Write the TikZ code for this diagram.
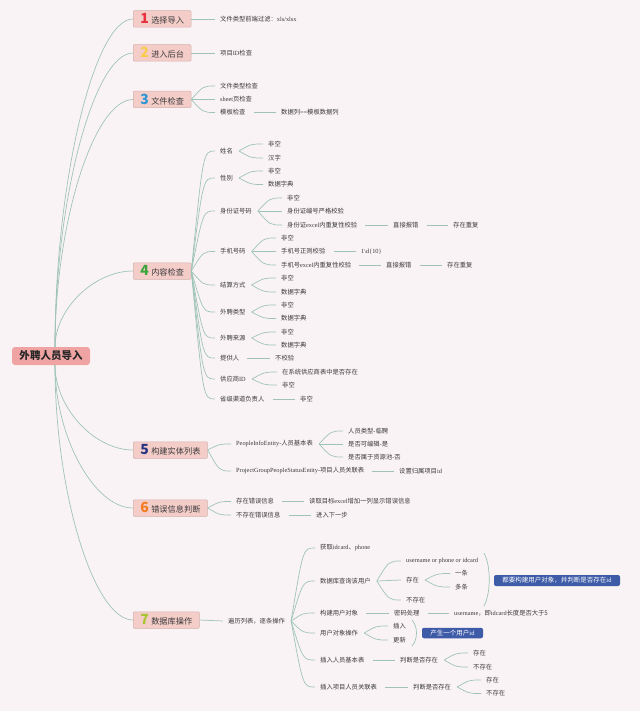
\documentclass[tikz,border=0pt]{standalone}
\usepackage{fontspec}
\setmainfont{Noto Sans CJK SC}
\newfontfamily\lat{Liberation Serif}
\usetikzlibrary{calc}
\definecolor{bg}{HTML}{FAF3F5}
\definecolor{txt}{HTML}{3A3A3A}
\definecolor{ln}{HTML}{9FC4B7}
\definecolor{catf}{HTML}{F4CDC9}
\definecolor{catb}{HTML}{D2B1AD}
\definecolor{rootf}{HTML}{EFA4A3}
\definecolor{callf}{HTML}{3E5BA8}
\definecolor{n1}{HTML}{E8313F}
\definecolor{n2}{HTML}{F9CB48}
\definecolor{n3}{HTML}{2D97D6}
\definecolor{n4}{HTML}{3BA43B}
\definecolor{n5}{HTML}{283583}
\definecolor{n6}{HTML}{F47B20}
\definecolor{n7}{HTML}{A6C530}
\newcommand\numf[2]{{\fontsize{14}{14}\selectfont\bfseries\color{#1}#2}\hspace{2.5pt}}
\newcommand\cn[3][5pt]{\draw[br] let \p1=([xshift=#1]#2.east), \p2=([xshift=-4pt]#3.west) in (\p1) .. controls ({0.5*\x1+0.5*\x2},\y2) .. (\p2);}
\newcommand\rc[2]{\draw[br] let \p1=(#1), \p2=(#2.west) in (\p1) .. controls (\x1,{0.5*\y1+0.5*\y2}) and ({0.5*\x1+0.5*\x2},\y2) .. (\p2);}
\tikzset{
  br/.style={draw=ln, line width=0.7pt},
  leaf/.style={anchor=west, inner sep=1pt, text=txt, font=\fontsize{6.3}{7}\selectfont},
  cat/.style={anchor=west, draw=catb, fill=catf, line width=0.5pt, rounded corners=1pt, inner xsep=7pt, inner ysep=0pt, minimum height=16.5pt, text=txt, font=\fontsize{8.2}{9}\selectfont},
  rootbox/.style={fill=rootf, rounded corners=3pt, inner xsep=7pt, inner ysep=0pt, minimum height=18pt, minimum width=78pt, text=black!85, font=\fontsize{10.5}{12}\selectfont\bfseries},
  callout/.style={fill=callf, rounded corners=2pt, text=white, inner sep=0pt, font=\fontsize{6.5}{7}\selectfont},
  brace/.style={draw=ln, line width=0.7pt}
}
\begin{document}
\begin{tikzpicture}[x=1pt,y=-1pt]
\path[fill=bg] (0,0) rectangle (640,711);
\useasboundingbox (0,0) rectangle (640,711);

% root
\node[rootbox] (root) at (51,356) {外聘人员导入};
\coordinate (rt) at (55,347);
\coordinate (rb) at (55,365);

% categories
\node[cat] (c1) at (133,19) {\numf{n1}{1}选择导入};
\node[cat] (c2) at (133,53) {\numf{n2}{2}进入后台};
\node[cat] (c3) at (133,99.5) {\numf{n3}{3}文件检查};
\node[cat] (c4) at (133,271) {\numf{n4}{4}内容检查};
\node[cat] (c5) at (133,450) {\numf{n5}{5}构建实体列表};
\node[cat] (c6) at (133,508) {\numf{n6}{6}错误信息判断};
\node[cat] (c7) at (133,620) {\numf{n7}{7}数据库操作};

\rc{rt}{c1}
\rc{rt}{c2}
\rc{rt}{c3}
\rc{rt}{c4}
\rc{rb}{c5}
\rc{rb}{c6}
\rc{rb}{c7}

% cat 1
\node[leaf] (a1) at (219,19) {文件类型前端过滤：{\lat xls/xlsx}};
\cn[0pt]{c1}{a1}
% cat 2
\node[leaf] (b1) at (219,53) {项目{\lat ID}检查};
\cn[0pt]{c2}{b1}
% cat 3
\node[leaf] (d1) at (219,86) {文件类型检查};
\node[leaf] (d2) at (219,99.5) {{\lat sheet}页检查};
\node[leaf] (d3) at (219,112.5) {模板检查};
\node[leaf] (d4) at (280,112.5) {数据列{\lat ==}模板数据列};
\cn[0pt]{c3}{d1}
\cn[0pt]{c3}{d2}
\cn[0pt]{c3}{d3}
\cn[7pt]{d3}{d4}

% cat 4
\node[leaf] (e1) at (219,151) {姓名};
\node[leaf] (e11) at (267,144) {非空};
\node[leaf] (e12) at (267,158) {汉字};
\node[leaf] (e2) at (219,178) {性别};
\node[leaf] (e21) at (267,171) {非空};
\node[leaf] (e22) at (267,184.5) {数据字典};
\node[leaf] (e3) at (219,211) {身份证号码};
\node[leaf] (e31) at (286,198) {非空};
\node[leaf] (e32) at (286,211) {身份证编号严格校验};
\node[leaf] (e33) at (286,225) {身份证{\lat excel}内重复性校验};
\node[leaf] (e34) at (392,225) {直接报错};
\node[leaf] (e35) at (452,225) {存在重复};
\node[leaf] (e4) at (219,251.5) {手机号码};
\node[leaf] (e41) at (280,238) {非空};
\node[leaf] (e42) at (280,251.5) {手机号正则校验};
\node[leaf] (e43) at (360,251.5) {{\lat 1\textbackslash d\{10\}}};
\node[leaf] (e44) at (280,265) {手机号{\lat excel}内重复性校验};
\node[leaf] (e45) at (385,265) {直接报错};
\node[leaf] (e46) at (446,265) {存在重复};
\node[leaf] (e5) at (219,285) {结算方式};
\node[leaf] (e51) at (280,278) {非空};
\node[leaf] (e52) at (280,292) {数据字典};
\node[leaf] (e6) at (219,312) {外聘类型};
\node[leaf] (e61) at (280,305) {非空};
\node[leaf] (e62) at (280,318.5) {数据字典};
\node[leaf] (e7) at (219,338) {外聘来源};
\node[leaf] (e71) at (280,332) {非空};
\node[leaf] (e72) at (280,345) {数据字典};
\node[leaf] (e8) at (219,358) {提供人};
\node[leaf] (e81) at (274,358) {不校验};
\node[leaf] (e9) at (219,379) {供应商{\lat ID}};
\node[leaf] (e91) at (281,372) {在系统供应商表中是否存在};
\node[leaf] (e92) at (281,385) {非空};
\node[leaf] (e10) at (219,399) {省级渠道负责人};
\node[leaf] (e101) at (299,399) {非空};

\foreach \k in {e1,e2,e3,e4,e5,e6,e7,e8,e9,e10} {\cn[0pt]{c4}{\k}}
\cn{e1}{e11} \cn{e1}{e12}
\cn{e2}{e21} \cn{e2}{e22}
\cn{e3}{e31} \cn{e3}{e32} \cn{e3}{e33}
\cn[7pt]{e33}{e34} \cn[7pt]{e34}{e35}
\cn{e4}{e41} \cn{e4}{e42} \cn{e4}{e44}
\cn[7pt]{e42}{e43}
\cn[7pt]{e44}{e45} \cn[7pt]{e45}{e46}
\cn{e5}{e51} \cn{e5}{e52}
\cn{e6}{e61} \cn{e6}{e62}
\cn{e7}{e71} \cn{e7}{e72}
\cn[7pt]{e8}{e81}
\cn{e9}{e91} \cn{e9}{e92}
\cn[7pt]{e10}{e101}

% cat 5
\node[leaf] (f1) at (235,444) {{\lat PeopleInfoEntity-}人员基本表};
\node[leaf] (f11) at (347,431) {人员类型{\lat -}临聘};
\node[leaf] (f12) at (347,444) {是否可编辑{\lat -}是};
\node[leaf] (f13) at (347,457) {是否属于资源池{\lat -}否};
\node[leaf] (f2) at (235,471) {{\lat ProjectGroupPeopleStatusEntity-}项目人员关联表};
\node[leaf] (f21) at (398,471) {设置归属项目{\lat id}};
\cn[0pt]{c5}{f1} \cn[0pt]{c5}{f2}
\cn{f1}{f11} \cn{f1}{f12} \cn{f1}{f13}
\cn[7pt]{f2}{f21}

% cat 6
\node[leaf] (g1) at (235,501.5) {存在错误信息};
\node[leaf] (g11) at (308,501.5) {读取目标{\lat excel}增加一列显示错误信息};
\node[leaf] (g2) at (235,515) {不存在错误信息};
\node[leaf] (g21) at (315,515) {进入下一步};
\cn[0pt]{c6}{g1} \cn[0pt]{c6}{g2}
\cn[7pt]{g1}{g11} \cn[7pt]{g2}{g21}

% cat 7
\node[leaf] (h) at (227,621) {遍历列表，逐条操作};
\cn[0pt]{c7}{h}
\node[leaf] (h1) at (319,548) {获取{\lat idcard}、{\lat phone}};
\node[leaf] (h2) at (319,581) {数据库查询该用户};
\node[leaf] (h21) at (405,561) {{\lat username or phone or idcard}};
\node[leaf] (h22) at (405,580) {存在};
\node[leaf] (h221) at (454,573.5) {一条};
\node[leaf] (h222) at (454,587) {多条};
\node[leaf] (h23) at (405,600) {不存在};
\node[leaf] (h3) at (319,613) {构建用户对象};
\node[leaf] (h31) at (393,613) {密码处理};
\node[leaf] (h311) at (453,613) {{\lat username}，即{\lat idcard}长度是否大于5};
\node[leaf] (h4) at (319,633) {用户对象操作};
\node[leaf] (h41) at (392,626) {插入};
\node[leaf] (h42) at (392,640) {更新};
\node[leaf] (h5) at (319,660) {插入人员基本表};
\node[leaf] (h51) at (399,660) {判断是否存在};
\node[leaf] (h511) at (472,653) {存在};
\node[leaf] (h512) at (472,667) {不存在};
\node[leaf] (h6) at (319,687) {插入项目人员关联表};
\node[leaf] (h61) at (412,687) {判断是否存在};
\node[leaf] (h611) at (485,680) {存在};
\node[leaf] (h612) at (485,693.5) {不存在};

\foreach \k in {h1,h2,h3,h4,h5,h6} {\cn{h}{\k}}
\cn{h2}{h21} \cn{h2}{h22} \cn{h2}{h23}
\cn{h22}{h221} \cn{h22}{h222}
\cn[7pt]{h3}{h31} \cn[7pt]{h31}{h311}
\cn{h4}{h41} \cn{h4}{h42}
\cn[7pt]{h5}{h51} \cn{h51}{h511} \cn{h51}{h512}
\cn[7pt]{h6}{h61} \cn{h61}{h611} \cn{h61}{h612}

% summary braces and callouts
\coordinate (s1a) at (484,553);
\coordinate (s1b) at (484,606);
\draw[brace] (s1a) .. controls (491,566) and (491,593) .. (s1b);
\node[callout, minimum width=126pt, minimum height=11pt] (k1) at (557,580.5) {都要构建用户对象，并判断是否存在{\lat id}};
\coordinate (s2a) at (412,620);
\coordinate (s2b) at (412,646);
\draw[brace] (s2a) .. controls (418,627) and (418,639) .. (s2b);
\node[callout, minimum width=61pt, minimum height=10.5pt] (k2) at (452.5,633) {产生一个用户{\lat id}};
\end{tikzpicture}
\end{document}
